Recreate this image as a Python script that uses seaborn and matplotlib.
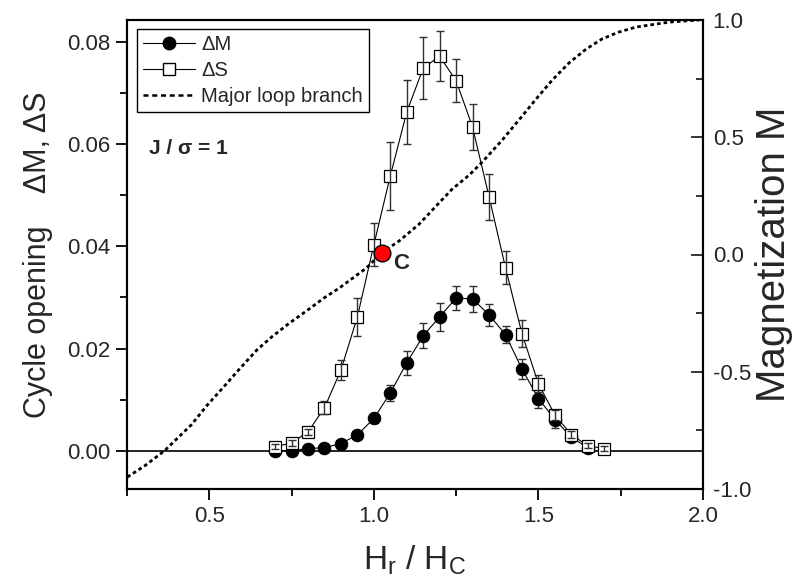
import matplotlib
matplotlib.use("Agg")
import matplotlib.pyplot as plt
from matplotlib.lines import Line2D
from matplotlib.ticker import MultipleLocator, FormatStrFormatter
import seaborn as sns

# Reversal field (in units of the coercive field) for the cycle-opening data
h_s = [0.70, 0.75, 0.80, 0.85, 0.90, 0.95, 1.00, 1.05, 1.10, 1.15, 1.20,
       1.25, 1.30, 1.35, 1.40, 1.45, 1.50, 1.55, 1.60, 1.65, 1.70]
delta_s = [0.0008, 0.0015, 0.0037, 0.0084, 0.0158, 0.0262, 0.0403, 0.0538,
           0.0663, 0.0749, 0.0772, 0.0724, 0.0633, 0.0497, 0.0358, 0.0229,
           0.0131, 0.0070, 0.0031, 0.0010, 0.0004]
delta_s_err = [0.0005, 0.0005, 0.0006, 0.0013, 0.0019, 0.0037, 0.0042, 0.0066,
               0.0063, 0.0060, 0.0049, 0.0042, 0.0045, 0.0045, 0.0032, 0.0026,
               0.0017, 0.0010, 0.0007, 0.0005, 0.0005]

h_m = [0.70, 0.75, 0.80, 0.85, 0.90, 0.95, 1.00, 1.05, 1.10, 1.15, 1.20,
       1.25, 1.30, 1.35, 1.40, 1.45, 1.50, 1.55, 1.60, 1.65]
delta_m = [0.0000, 0.0000, 0.0004, 0.0006, 0.0014, 0.0031, 0.0063, 0.0113,
           0.0172, 0.0225, 0.0262, 0.0299, 0.0297, 0.0266, 0.0227, 0.0160,
           0.0102, 0.0061, 0.0026, 0.0006]
delta_m_err = [0.0003, 0.0003, 0.0003, 0.0003, 0.0004, 0.0005, 0.0008, 0.0015,
               0.0023, 0.0024, 0.0027, 0.0024, 0.0025, 0.0021, 0.0017, 0.0020,
               0.0018, 0.0016, 0.0008, 0.0005]

# Major hysteresis loop branch M(H)
loop_h = [0.251, 0.303, 0.363, 0.445, 0.494, 0.546, 0.597, 0.646, 0.691,
          0.743, 0.795, 0.849, 0.895, 0.977, 1.025, 1.077, 1.138, 1.198,
          1.238, 1.290, 1.329, 1.390, 1.441, 1.493, 1.542, 1.593, 1.645,
          1.693, 1.745, 1.797, 1.897, 1.988]
loop_m = [-0.949, -0.902, -0.838, -0.727, -0.642, -0.561, -0.480, -0.405,
          -0.350, -0.293, -0.241, -0.185, -0.143, -0.058, 0.008, 0.058,
          0.130, 0.220, 0.279, 0.339, 0.394, 0.488, 0.574, 0.663, 0.744,
          0.817, 0.876, 0.919, 0.949, 0.970, 0.991, 1.000]

# Highlighted point C on the major loop
point_c_h = 1.025
point_c_m = 0.008

x_ticks = [0.5, 1.0, 1.5, 2.0]
left_ticks = [0.00, 0.02, 0.04, 0.06, 0.08]
right_ticks = [-1.0, -0.5, 0.0, 0.5, 1.0]

sns.set_theme(style="ticks")
plt.rcParams["font.family"] = ["Liberation Sans", "DejaVu Sans"]
plt.rcParams["mathtext.fontset"] = "custom"
plt.rcParams["mathtext.rm"] = "Liberation Sans"
plt.rcParams["mathtext.it"] = "Liberation Sans"

fig = plt.figure(figsize=(8.01, 5.88), dpi=100)
ax = fig.add_axes([127 / 801, 1 - 489 / 588, (703 - 127) / 801, (489 - 20) / 588])
ax2 = ax.twinx()

ax.set_xlim(0.25, 2.0)
ax.set_ylim(-0.0075, 0.0843)
ax2.set_ylim(-1.0, 1.0)

# zero reference line
ax.axhline(0.0, color="black", lw=1.2, zorder=1)

# cycle opening ΔM
ax.errorbar(h_m, delta_m, yerr=delta_m_err, fmt="none", ecolor="#303030",
            elinewidth=1.0, capsize=3.0, capthick=1.0, zorder=3)
sns.lineplot(x=h_m, y=delta_m, ax=ax, color="black", lw=0.8, marker="o",
             markersize=9, markerfacecolor="black", markeredgecolor="black",
             sort=False, estimator=None, zorder=4)

# cycle opening ΔS
sns.lineplot(x=h_s, y=delta_s, ax=ax, color="black", lw=0.8, marker="s",
             markersize=8, markerfacecolor="white", markeredgecolor="black",
             markeredgewidth=0.9, sort=False, estimator=None, zorder=5)
ax.errorbar(h_s, delta_s, yerr=delta_s_err, fmt="none", ecolor="#303030",
            elinewidth=1.0, capsize=3.0, capthick=1.0, zorder=6)

# major loop branch on the magnetization axis
sns.lineplot(x=loop_h, y=loop_m, ax=ax2, color="black", lw=2.0,
             linestyle=(0, (1.3, 1.1)), sort=False, estimator=None, zorder=2)
ax2.plot([point_c_h], [point_c_m], marker="o", markersize=12,
         markerfacecolor="#ff0000", markeredgecolor="black",
         markeredgewidth=1.0, zorder=8)
ax2.text(point_c_h + 0.035, point_c_m - 0.045, "C", fontsize=16,
         fontweight="bold", ha="left", va="center")

ax.text(0.038, 0.727, "J / σ = 1", transform=ax.transAxes, fontsize=15,
        fontweight="bold", ha="left", va="center")

# axes styling
for a in (ax, ax2):
    for sp in a.spines.values():
        sp.set_linewidth(1.5)
        sp.set_color("black")
    a.grid(False)

ax.set_xticks(x_ticks)
ax.xaxis.set_minor_locator(MultipleLocator(0.25))
ax.xaxis.set_major_formatter(FormatStrFormatter("%.1f"))
ax.set_yticks(left_ticks)
ax.yaxis.set_minor_locator(MultipleLocator(0.01))
ax.yaxis.set_major_formatter(FormatStrFormatter("%.2f"))
ax2.set_yticks(right_ticks)
ax2.yaxis.set_minor_locator(MultipleLocator(0.25))
ax2.yaxis.set_major_formatter(FormatStrFormatter("%.1f"))

ax.tick_params(axis="both", which="major", direction="out", length=8,
               width=1.3, labelsize=16, color="black", pad=4)
ax.tick_params(axis="both", which="minor", direction="out", length=5,
               width=1.3, color="black")
ax.tick_params(axis="x", which="both", top=False)
ax.tick_params(axis="y", which="both", right=False)
ax2.tick_params(axis="y", which="major", direction="in", length=9,
                width=1.3, labelsize=16, pad=7)
ax2.tick_params(axis="y", which="minor", direction="in", length=5, width=1.3)

ax.set_xlabel(r"H$_\mathregular{r}$ / H$_\mathregular{C}$", fontsize=24,
              labelpad=12)
ax.set_ylabel("Cycle opening    ΔM, ΔS", fontsize=22, labelpad=10)
ax2.set_ylabel("Magnetization M", fontsize=29, labelpad=3)

handles = [
    Line2D([], [], color="black", lw=0.8, marker="o", markersize=9,
           markerfacecolor="black", markeredgecolor="black"),
    Line2D([], [], color="black", lw=0.8, marker="s", markersize=8,
           markerfacecolor="white", markeredgecolor="black"),
    Line2D([], [], color="black", lw=1.8, linestyle=(0, (2.0, 1.5))),
]
leg = ax2.legend(handles, ["ΔM", "ΔS", "Major loop branch"],
                 loc="upper left", bbox_to_anchor=(0.017, 0.981),
                 fontsize=14.5, frameon=True, fancybox=False, framealpha=1,
                 edgecolor="black", handlelength=2.6, handletextpad=0.3,
                 borderpad=0.3, labelspacing=0.35, borderaxespad=0)
leg.get_frame().set_linewidth(1.0)
leg.set_zorder(10)

fig.savefig("out.png", dpi=100)
